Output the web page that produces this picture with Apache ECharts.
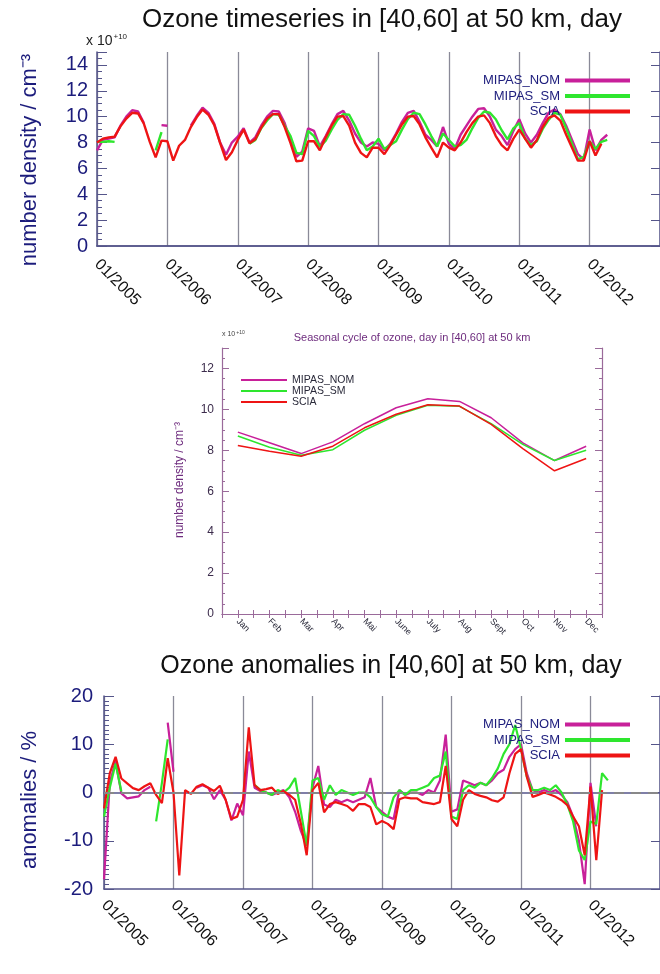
<!DOCTYPE html>
<html><head><meta charset="utf-8">
<script src="https://cdn.jsdelivr.net/npm/echarts@6/dist/echarts.min.js"></script>
<style>html,body{margin:0;padding:0;background:#fff}#c{width:660px;height:974px}</style>
</head><body><div id="c"></div>
<script>
// ---------- data ----------
const startYear = 2005;           // first month = 01/2005, monthly steps
const yearTicks = [2005, 2006, 2007, 2008, 2009, 2010, 2011, 2012];
const seriesNames = ['MIPAS_NOM', 'MIPAS_SM', 'SCIA'];

// Panel 1: number density (x 10^10 cm^-3), Jan 2005 .. Apr 2012
const tsNom = [
  7.4, 8.2, 8.3, 8.4, 9.3, 10.0, 10.5, 10.4, 9.5, null, null, 9.35,
  9.3, null, null, null, 9.3, 10.05, 10.7, 10.3, 9.45, 8.0, 7.05, 8.0,
  8.45, 9.1, 8.0, 8.4, 9.3, 10.0, 10.45, 10.4, 9.5, 8.1, 6.9, 7.3,
  9.1, 8.9, 7.7, 8.5, 9.4, 10.2, 10.45, 9.7, 8.7, 8.0, 7.7, 8.0,
  7.9, 7.4, 7.9, 8.7, 9.6, 10.3, 10.45, 9.6, 8.6, 8.2, 7.7, 9.2,
  7.9, 7.5, 8.6, 9.3, 10.0, 10.6, 10.65, 10.0, 9.0, 8.5, 7.8, 8.9,
  9.8, 8.7, 8.0, 8.6, 9.5, 10.3, 10.55, 10.2, 9.3, 8.2, 7.1, 6.7,
  9.0, 7.4, 8.2, 8.6
];
const tsSm = [
  8.05, 8.05, 8.1, 8.05, null, null, null, null, null, null, 7.4, 8.8,
  null, null, null, null, null, null, null, null, null, null, null, null,
  null, null, 7.9, 8.2, 9.1, 9.7, 10.2, 10.15, 9.3, 8.5, 7.2, 7.1,
  8.9, 8.5, 7.65, 8.15, 9.0, 9.75, 10.2, 10.15, 9.3, 8.3, 7.4, 7.7,
  8.3, 7.5, 7.8, 8.1, 9.0, 9.8, 10.3, 10.2, 9.4, 8.5, 7.7, 8.7,
  8.2, 7.7, 7.8, 8.2, 9.1, 9.9, 10.4, 10.3, 9.8, 8.95, 8.25, 9.1,
  9.5, 8.3, 7.8, 8.1, 9.05, 9.75, 10.3, 10.15, 9.1, 7.9, 6.7, 6.9,
  8.1, 7.5, 8.05, 8.2
];
const tsScia = [
  8.0, 8.3, 8.4, 8.45, 9.25, 9.85, 10.3, 10.25, 9.45, 8.05, 6.85, 8.15,
  8.1, 6.6, 7.75, 8.2, 9.2, 9.95, 10.55, 10.15, 9.35, 7.95, 6.65, 7.25,
  8.2, 9.0, 7.95, 8.25, 9.15, 9.85, 10.2, 10.2, 9.2, 7.95, 6.55, 6.6,
  8.1, 8.1, 7.4, 8.4, 9.3, 10.0, 10.05, 9.3, 8.0, 7.2, 6.85, 7.6,
  7.6, 7.1, 7.8, 8.6, 9.4, 10.0, 10.05, 9.4, 8.4, 7.6, 6.85, 8.0,
  7.6, 7.4, 8.0, 8.8, 9.5, 10.0, 10.1, 9.5, 8.5, 7.8, 7.4, 8.3,
  9.0, 8.3, 7.6, 8.2, 9.2, 9.9, 10.1, 9.7, 8.6, 7.6, 6.6, 6.6,
  8.1, 7.0, 7.9, null
];

// Panel 2: seasonal cycle
const monthNames = ['Jan','Feb','Mar','Apr','Mai','June','July','Aug','Sept','Oct','Nov','Dec'];
const scNom  = [8.89, 8.37, 7.84, 8.41, 9.30, 10.08, 10.52, 10.39, 9.59, 8.36, 7.50, 8.20];
const scSm   = [8.70, 8.15, 7.76, 8.03, 8.98, 9.71, 10.20, 10.15, 9.30, 8.29, 7.50, 8.00];
const scScia = [8.24, 7.95, 7.71, 8.20, 9.10, 9.76, 10.23, 10.16, 9.27, 8.08, 7.00, 7.60];

// Panel 3: anomalies (%), Jan 2005 .. Apr 2012
const anNom = [
  -18, 2.0, 6.5, -0.2, -1.2, -1.0, -0.8, 0.5, 1.2, null, null, 14.5,
  4.3, null, null, null, 1.0, 1.5, 1.0, -1.4, 0.5, -1.5, -5.8, -2.3,
  -4.7, 8.5, 1.0, 0.3, 0.0, -0.5, 0.0, 0.5, -1.0, -4.0, -8.0, -11.0,
  1.0, 5.5, -2.5, -3.0, -1.5, -2.0, -1.5, -2.0, -1.5, -1.0, 3.0, -3.0,
  -4.0, -5.0, -5.5, 0.5, -0.5, 0.0, 0.0, -0.5, 0.5, 0.0, 2.5, 12.0,
  -4.0, -3.5, 2.5, 2.0, 1.5, 2.0, 1.5, 2.5, 4.0, 4.7, 7.4, 9.0,
  10.0, 4.0, 0.5, 0.0, 0.5, 0.0, 0.5, -0.5, -2.0, -5.0, -10.0, -19.0,
  2.0, -7.0, null, null
];
const anSm = [
  -5.0, 1.0, 6.0, 0.2, null, null, null, null, null, -6.0, 2.0, 11.0,
  null, null, null, null, null, null, null, null, null, null, null, null,
  null, null, 1.6, 0.5, 0.0, -0.5, 0.5, 0.0, 1.0, 3.0, -4.0, -11.0,
  2.5, 3.0, -1.5, 1.5, -0.5, 0.5, 0.0, -0.5, 0.0, 0.0, -1.0, -3.0,
  -4.5, -5.0, -1.0, 0.5, -0.5, 0.5, 0.5, 1.0, 1.5, 3.0, 3.5, 8.5,
  -5.0, -5.5, 0.5, 1.5, 1.0, 2.0, 1.5, 3.0, 5.0, 8.0, 10.0, 14.0,
  9.0, 3.3, 0.5, 0.5, 1.0, 0.5, 1.5, 0.0, -2.5, -6.0, -12.0, -14.0,
  -6.0, -6.5, 4.0, 2.5
];
const anScia = [
  -3.3, 4.0, 7.4, 2.9, 1.9, 0.9, 0.5, 1.3, 1.9, -0.5, -2.2, 7.1,
  0.0, -17.2, 0.5, -0.3, 1.2, 1.7, 1.0, 0.3, 1.4, -1.5, -5.5, -5.0,
  -1.5, 13.5, 1.5, 0.5, 0.7, 1.0, -0.3, 0.3, -0.5, -1.5, -6.5, -13.0,
  0.5, 2.0, -4.1, -2.4, -2.0, -2.4, -2.8, -3.8, -2.4, -2.4, -3.0, -6.6,
  -5.9, -6.5, -7.6, -1.4, -1.0, -1.2, -1.2, -2.0, -2.2, -2.4, -2.0, 5.5,
  -5.5, -7.0, -1.5, 0.5, -0.3, -0.7, -1.0, -1.6, -1.9, -1.0, 4.0, 8.0,
  9.0, 3.3, -0.9, -0.5, 0.0, -0.4, -0.9, -1.6, -2.6, -5.0, -7.0, -13.0,
  1.2, -14.0, 0.5, null
];

// ---------- styling ----------
const C_NOM = '#c8209a', C_SM = '#2ee62e', C_SCIA = '#ee1414';
const NAVY = '#1c1c7c';
const AXC = '#55558a';
const PUR = '#9a6a9a';
const FONT = '"Liberation Sans", Arial, Helvetica, sans-serif';

function monthly(arr) { return arr.map((v, i) => [startYear + i / 12, v == null ? '-' : v]); }
function months12(arr) { return arr.map((v, i) => [i + 1, v]); }

const chart = echarts.init(document.getElementById('c'), null, { renderer: 'canvas' });

const yearFmt = v => (yearTicks.indexOf(Math.round(v)) >= 0 && Math.abs(v - Math.round(v)) < 1e-6) ? '01/' + Math.round(v) : '';

function timeX(grid, margin) {
  return {
    type: 'value', gridIndex: grid, min: 2005, max: 2013, interval: 1,
    axisLine: { show: true, onZero: false, lineStyle: { color: AXC, width: 1.5 } },
    axisTick: { show: false },
    splitLine: { show: true, lineStyle: { color: '#8a8a98', width: 1.3 } },
    axisLabel: { rotate: -45, formatter: yearFmt, color: '#111', fontSize: 16, fontFamily: FONT, margin: margin, showMaxLabel: false }
  };
}
function topBorder(grid, min, max, color) {
  return { type: 'value', gridIndex: grid, position: 'top', min: min, max: max,
    axisLine: { show: true, lineStyle: { color: color, width: 1.5 } },
    axisTick: { show: false }, axisLabel: { show: false }, splitLine: { show: false } };
}

const option = {
  animation: false,
  backgroundColor: '#fff',
  textStyle: { fontFamily: FONT },
  grid: [
    { left: 97, top: 52, width: 568, height: 194 },
    { left: 222, top: 348, width: 380, height: 266 },
    { left: 104, top: 696, width: 563, height: 193 }
  ],
  graphic: [
    { type: 'text', x: 382, y: 20, style: { text: 'Ozone timeseries in [40,60] at 50 km, day', font: '26px ' + FONT, fill: '#111', align: 'center', verticalAlign: 'middle' }, z: 10 },
    { type: 'text', x: 86, y: 33, style: { text: '{a|x 10}{b|+10}', rich: { a: { font: '14px ' + FONT, fill: '#222' }, b: { font: '8px ' + FONT, fill: '#222', verticalAlign: 'top', padding: [0, 0, 8, 1] } } } },
    { type: 'text', x: 30, y: 160, rotation: Math.PI / 2, style: { text: 'number density / cm⁻³', font: '22px ' + FONT, fill: NAVY, align: 'center', verticalAlign: 'middle' } },

    { type: 'text', x: 412, y: 338, style: { text: 'Seasonal cycle of ozone, day in [40,60] at 50 km', font: '11px ' + FONT, fill: '#6e2c7e', align: 'center', verticalAlign: 'middle' } },
    { type: 'text', x: 222, y: 330, style: { text: '{a|x 10}{b|+10}', rich: { a: { font: '7px ' + FONT, fill: '#444' }, b: { font: '5px ' + FONT, fill: '#444', verticalAlign: 'top', padding: [0, 0, 4, 1] } } } },
    { type: 'text', x: 180, y: 480, rotation: Math.PI / 2, style: { text: 'number density / cm⁻³', font: '12px ' + FONT, fill: '#6e2c7e', align: 'center', verticalAlign: 'middle' } },

    { type: 'text', x: 391, y: 666, style: { text: 'Ozone anomalies in [40,60] at 50 km, day', font: '25px ' + FONT, fill: '#111', align: 'center', verticalAlign: 'middle' } },
    { type: 'text', x: 30, y: 800, rotation: Math.PI / 2, style: { text: 'anomalies / %', font: '22px ' + FONT, fill: NAVY, align: 'center', verticalAlign: 'middle' } }
  ],
  legend: [
    { data: seriesNames, orient: 'vertical', left: 470, top: 74, align: 'right', itemGap: 2.5, itemWidth: 65, itemHeight: 4, itemTextGap: 13, padding: 0, icon: 'rect', selectedMode: false,
      formatter: n => '{a|' + n + '}', textStyle: { rich: { a: { width: 90, align: 'right', fontSize: 13, lineHeight: 15, color: NAVY, fontFamily: FONT } } } },
    { data: seriesNames, orient: 'vertical', left: 241, top: 374.5, align: 'left', itemGap: 0, itemWidth: 46, itemHeight: 2, itemTextGap: 4, padding: 0, icon: 'rect', selectedMode: false,
      textStyle: { fontSize: 10.5, lineHeight: 7.3, color: '#2a2a3a', fontFamily: FONT } },
    { data: seriesNames, orient: 'vertical', left: 470, top: 718, align: 'right', itemGap: 2.5, itemWidth: 65, itemHeight: 4, itemTextGap: 13, padding: 0, icon: 'rect', selectedMode: false,
      formatter: n => '{a|' + n + '}', textStyle: { rich: { a: { width: 90, align: 'right', fontSize: 13, lineHeight: 15, color: NAVY, fontFamily: FONT } } } }
  ],
  xAxis: [
    timeX(0, 16),
    topBorder(0, 2005, 2013, AXC),
    { type: 'value', gridIndex: 1, min: 0.5, max: 12.5, interval: 0.5,
      axisLine: { show: true, onZero: false, lineStyle: { color: PUR, width: 1.2 } },
      axisTick: { show: true, inside: true, length: 4, lineStyle: { color: PUR } },
      splitLine: { show: false },
      axisLabel: { rotate: -45, fontSize: 9, color: '#2a2a3a', margin: 6, showMinLabel: false, showMaxLabel: false,
        formatter: v => (Math.abs(v - Math.round(v)) < 1e-6 && v >= 1 && v <= 12) ? monthNames[Math.round(v) - 1] : '' } },
    { type: 'value', gridIndex: 1, position: 'top', min: 0.5, max: 12.5, interval: 0.5,
      axisLine: { show: true, lineStyle: { color: PUR, width: 1.2 } },
      axisTick: { show: true, inside: true, length: 4, lineStyle: { color: PUR } },
      axisLabel: { show: false }, splitLine: { show: false } },
    timeX(2, 14),
    topBorder(2, 2005, 2013, AXC)
  ],
  yAxis: [
    { type: 'value', gridIndex: 0, min: 0, max: 15, interval: 2,
      axisLine: { show: true, lineStyle: { color: AXC, width: 1.5 } },
      axisTick: { show: true, inside: true, length: 10, lineStyle: { color: AXC } },
      minorTick: { show: true, splitNumber: 4, length: 5, lineStyle: { color: AXC } },
      splitLine: { show: false },
      axisLabel: { fontSize: 20, color: NAVY, margin: 9, formatter: v => (v % 2 === 0 && v <= 14) ? String(v) : '' } },
    { type: 'value', gridIndex: 0, position: 'right', min: 0, max: 15, interval: 2,
      axisLine: { show: true, lineStyle: { color: AXC, width: 1.5 } },
      axisTick: { show: true, inside: true, length: 9, lineStyle: { color: AXC } },
      axisLabel: { show: false }, splitLine: { show: false } },
    { type: 'value', gridIndex: 1, min: 0, max: 13, interval: 2,
      axisLine: { show: true, lineStyle: { color: PUR, width: 1.2 } },
      axisTick: { show: true, inside: true, length: 7, lineStyle: { color: PUR } },
      minorTick: { show: true, splitNumber: 4, length: 3, lineStyle: { color: PUR } },
      splitLine: { show: false },
      axisLabel: { fontSize: 12, color: '#3c2c4c', margin: 8, formatter: v => (v % 2 === 0 && v <= 12) ? String(v) : '' } },
    { type: 'value', gridIndex: 1, position: 'right', min: 0, max: 13, interval: 2,
      axisLine: { show: true, lineStyle: { color: PUR, width: 1.2 } },
      axisTick: { show: true, inside: true, length: 7, lineStyle: { color: PUR } },
      minorTick: { show: true, splitNumber: 4, length: 3, lineStyle: { color: PUR } },
      axisLabel: { show: false }, splitLine: { show: false } },
    { type: 'value', gridIndex: 2, min: -20, max: 20, interval: 10,
      axisLine: { show: true, onZero: false, lineStyle: { color: AXC, width: 1.5 } },
      axisTick: { show: true, inside: true, length: 10, lineStyle: { color: AXC } },
      minorTick: { show: true, splitNumber: 10, length: 5, lineStyle: { color: AXC } },
      splitLine: { show: false },
      axisLabel: { fontSize: 20, color: NAVY, margin: 11 } },
    { type: 'value', gridIndex: 2, position: 'right', min: -20, max: 20, interval: 10,
      axisLine: { show: true, lineStyle: { color: AXC, width: 1.5 } },
      axisTick: { show: true, inside: true, length: 9, lineStyle: { color: AXC } },
      axisLabel: { show: false }, splitLine: { show: false } }
  ],
  series: [
    { name: 'MIPAS_NOM', type: 'line', xAxisIndex: 0, yAxisIndex: 0, data: monthly(tsNom), showSymbol: false, lineStyle: { width: 2.4, color: C_NOM }, itemStyle: { color: C_NOM } },
    { name: 'MIPAS_SM', type: 'line', xAxisIndex: 0, yAxisIndex: 0, data: monthly(tsSm), showSymbol: false, lineStyle: { width: 2.4, color: C_SM }, itemStyle: { color: C_SM } },
    { name: 'SCIA', type: 'line', xAxisIndex: 0, yAxisIndex: 0, data: monthly(tsScia), showSymbol: false, lineStyle: { width: 2.4, color: C_SCIA }, itemStyle: { color: C_SCIA } },

    { name: 'MIPAS_NOM', type: 'line', xAxisIndex: 2, yAxisIndex: 2, data: months12(scNom), showSymbol: false, lineStyle: { width: 1.5, color: C_NOM }, itemStyle: { color: C_NOM } },
    { name: 'MIPAS_SM', type: 'line', xAxisIndex: 2, yAxisIndex: 2, data: months12(scSm), showSymbol: false, lineStyle: { width: 1.5, color: C_SM }, itemStyle: { color: C_SM } },
    { name: 'SCIA', type: 'line', xAxisIndex: 2, yAxisIndex: 2, data: months12(scScia), showSymbol: false, lineStyle: { width: 1.5, color: C_SCIA }, itemStyle: { color: C_SCIA } },

    { name: 'MIPAS_NOM', type: 'line', xAxisIndex: 4, yAxisIndex: 4, data: monthly(anNom), showSymbol: false, lineStyle: { width: 2.2, color: C_NOM }, itemStyle: { color: C_NOM },
      markLine: { silent: true, symbol: 'none', label: { show: false }, lineStyle: { color: '#888', type: [10, 7], width: 2 }, data: [{ yAxis: 0 }] } },
    { name: 'MIPAS_SM', type: 'line', xAxisIndex: 4, yAxisIndex: 4, data: monthly(anSm), showSymbol: false, lineStyle: { width: 2.2, color: C_SM }, itemStyle: { color: C_SM } },
    { name: 'SCIA', type: 'line', xAxisIndex: 4, yAxisIndex: 4, data: monthly(anScia), showSymbol: false, lineStyle: { width: 2.2, color: C_SCIA }, itemStyle: { color: C_SCIA } }
  ]
};
chart.setOption(option);
</script>
</body></html>
